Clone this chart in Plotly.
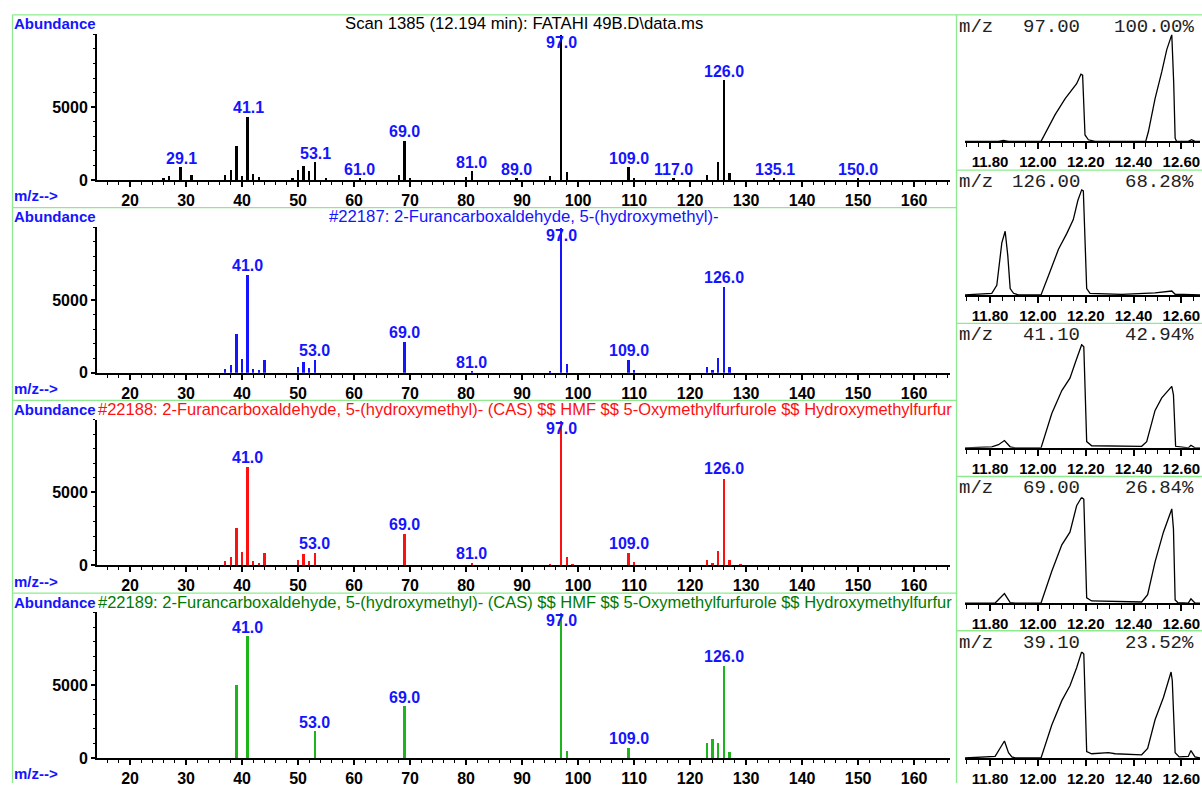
import plotly.graph_objects as go

W, H = 1202, 792

# ---------------- data: mass spectra (m/z, abundance) ----------------
scan_mz = [26, 27, 29, 31, 37, 38, 39, 40, 41, 42, 43, 49, 50, 51, 52, 53, 55, 61, 68, 69, 70,
           80, 81, 89, 95, 97, 98, 109, 110, 117, 123, 125, 126, 127, 135, 150]
scan_ab = [100, 230, 840, 340, 340, 680, 2320, 230, 4320, 410, 160, 100, 640, 950, 570, 1180, 100, 60, 340, 2660, 100,
           200, 570, 50, 230, 9950, 520, 840, 100, 60, 300, 1180, 6820, 450, 50, 40]
scan_labels = ["29.1", "41.1", "53.1", "61.0", "69.0", "81.0", "89.0", "97.0", "109.0", "117.0", "126.0", "135.1", "150.0"]

lib1_mz = [37, 38, 39, 40, 41, 42, 43, 44, 50, 51, 52, 53, 69, 81, 95, 97, 98, 109, 110, 123, 124, 125, 126, 127]
lib1_ab = [270, 520, 2660, 910, 6700, 270, 160, 840, 410, 750, 340, 840, 2110, 60, 110, 9950, 610, 840, 160, 390, 160, 980, 5910, 390]
lib1_labels = ["41.0", "53.0", "69.0", "81.0", "97.0", "109.0", "126.0"]

lib2_mz = [37, 38, 39, 40, 41, 42, 43, 44, 50, 51, 52, 53, 69, 81, 95, 97, 98, 99, 109, 110, 123, 124, 125, 126, 127, 129]
lib2_ab = [300, 570, 2610, 950, 6750, 300, 180, 860, 410, 800, 340, 840, 2160, 180, 110, 9950, 610, 110, 860, 230, 410, 180, 980, 5980, 410, 60]
lib2_labels = ["41.0", "53.0", "69.0", "81.0", "97.0", "109.0", "126.0"]

lib3_mz = [39, 41, 53, 69, 97, 98, 109, 123, 124, 125, 126, 127]
lib3_ab = [4950, 8340, 1820, 3520, 9950, 450, 680, 980, 1250, 980, 6300, 390]
lib3_labels = ["41.0", "53.0", "69.0", "97.0", "109.0", "126.0"]

titles = [
    "Scan 1385 (12.194 min): FATAHI 49B.D\\data.ms",
    "#22187: 2-Furancarboxaldehyde, 5-(hydroxymethyl)-",
    "#22188: 2-Furancarboxaldehyde, 5-(hydroxymethyl)- (CAS) $$ HMF $$ 5-Oxymethylfurfurole $$ Hydroxymethylfurfur",
    "#22189: 2-Furancarboxaldehyde, 5-(hydroxymethyl)- (CAS) $$ HMF $$ 5-Oxymethylfurfurole $$ Hydroxymethylfurfur",
]

# ---------------- data: extracted ion chromatograms (time min, % of max) ----------------
eic97_t = [11.695, 11.835, 11.856, 11.877, 12.013, 12.072, 12.114, 12.141, 12.162, 12.180, 12.187, 12.197, 12.211, 12.239,
           12.451, 12.462, 12.490, 12.518, 12.539, 12.560, 12.568, 12.574, 12.580, 12.629, 12.643, 12.657, 12.678]
eic97_i = [0, 0, 1, 0, 0, 25, 40, 48, 54, 63, 62, 6, 1.5, 0,
           0, 9, 40, 65, 86, 100, 55, 3, 0, 0, 1.5, 0, 0]

eic126_t = [11.695, 11.807, 11.828, 11.849, 11.863, 11.874, 11.884, 11.898, 11.918, 12.013, 12.044, 12.086, 12.121, 12.148,
            12.167, 12.183, 12.190, 12.204, 12.218, 12.351, 12.490, 12.560, 12.574, 12.678]
eic126_i = [0, 1.5, 9, 49, 60, 37, 6, 1.5, 0, 0, 18, 43, 58, 71,
            89, 99, 98, 6, 1.5, 0.5, 2, 3.7, 0.6, 0]

eic41_t = [11.695, 11.807, 11.835, 11.860, 11.884, 11.905, 12.013, 12.058, 12.100, 12.134, 12.158, 12.183, 12.192, 12.204,
           12.225, 12.434, 12.455, 12.490, 12.518, 12.546, 12.560, 12.567, 12.576, 12.629, 12.640, 12.657, 12.678]
eic41_i = [0, 1, 3, 7, 1, 0, 0, 33, 55, 67, 83, 99, 97, 6,
           2, 1.5, 6, 36, 48, 55, 59, 51, 1.5, 0, 2.5, 0, 0]

eic69_t = [11.695, 11.821, 11.860, 11.884, 11.905, 12.013, 12.058, 12.100, 12.134, 12.162, 12.183, 12.192, 12.204, 12.225,
           12.434, 12.459, 12.490, 12.525, 12.560, 12.567, 12.574, 12.585, 12.629, 12.640, 12.657, 12.678]
eic69_i = [0, 0, 9, 0.5, 0, 0, 30, 55, 67, 92, 100, 98, 5, 2,
           1, 8, 39, 67, 89, 70, 3, 0.5, 0, 4, 0, 0]

eic39_t = [11.695, 11.821, 11.860, 11.877, 11.891, 11.905, 12.013, 12.058, 12.100, 12.134, 12.162, 12.183, 12.192, 12.204,
           12.225, 12.295, 12.323, 12.434, 12.459, 12.490, 12.525, 12.557, 12.562, 12.574, 12.591, 12.629, 12.640, 12.657, 12.678]
eic39_i = [0, 1.5, 16, 5, 1, 0, 0, 31, 54, 68, 85, 100, 98, 6,
           4, 5, 4, 3, 9, 36, 57, 81, 73, 5, 1, 1.5, 7, 1, 0]

eic_mz = ["97.00", "126.00", "41.10", "69.00", "39.10"]
eic_pct = ["100.00%", "68.28%", "42.94%", "26.84%", "23.52%"]
eic_t = [eic97_t, eic126_t, eic41_t, eic69_t, eic39_t]
eic_i = [eic97_i, eic126_i, eic41_i, eic69_i, eic39_i]

# ---------------- styling / layout ----------------
FONT = "Arial, Liberation Sans, sans-serif"
MONO = "Liberation Mono, Courier New, monospace"
BLUE = "#1414FF"
GREEN_LINE = "#8DEB8D"
bar_colors = ["#000000", "#1414FF", "#FF1010", "#1CB51C"]
title_colors = ["#000000", "#1414FF", "#FF1010", "#007A00"]


def px(x):
    return x / W


def py(y):
    return 1 - y / H


fig = go.Figure()
annotations = []
shapes = []

spectra = [(scan_mz, scan_ab, scan_labels), (lib1_mz, lib1_ab, lib1_labels),
           (lib2_mz, lib2_ab, lib2_labels), (lib3_mz, lib3_ab, lib3_labels)]
left_zero = [182.0, 377.0, 571.7, 766.7]     # pixel row of zero abundance
frame_top = [15, 210, 405, 600]
YMAX = 10000
PX_PER_UNIT = 14.72 / 1000

for i, (mz, ab, labels) in enumerate(spectra):
    k = i + 1
    sfx = "" if k == 1 else str(k)
    xa, ya = "x" + sfx, "y" + sfx
    fig.add_trace(go.Bar(x=mz, y=ab, width=0.42, marker=dict(color=bar_colors[i], line=dict(width=0)),
                         xaxis=xa, yaxis=ya, hoverinfo="skip", showlegend=False))
    y0 = left_zero[i]
    y1 = y0 - YMAX * PX_PER_UNIT
    fig.layout["xaxis" + sfx] = dict(
        domain=[px(97), px(950)], anchor=ya, range=[14.1, 166.4],
        showline=True, linecolor="black", linewidth=2, mirror=False,
        ticks="outside", ticklen=5, tickwidth=1.6, tickcolor="black",
        tickmode="linear", tick0=0, dtick=10,
        minor=dict(ticks="outside", ticklen=3, tickwidth=1.4, tickcolor="black", dtick=2, tick0=0),
        showgrid=False, zeroline=False, fixedrange=True,
        tickfont=dict(family=FONT, size=16, color="black", weight="bold"))
    fig.layout["yaxis" + sfx] = dict(
        domain=[py(y0), py(y1)], anchor=xa, range=[0, YMAX],
        showline=True, linecolor="black", linewidth=2,
        ticks="outside", ticklen=4, tickwidth=1.6, tickcolor="black",
        tickmode="array", tickvals=[0, 5000], ticktext=["0", "5000"],
        minor=dict(ticks="outside", ticklen=2, tickwidth=1.2, tickcolor="black",
                   tickmode="array", tickvals=list(range(0, YMAX + 1, 1000))),
        showgrid=False, zeroline=False, fixedrange=True,
        tickfont=dict(family=FONT, size=16, color="black", weight="bold"))
    # peak labels
    for lab in labels:
        m = float(lab)
        v = ab[mz.index(round(m))]
        if v > 8500:
            annotations.append(dict(x=m, y=YMAX, xref=xa, yref=ya, text="<b>%s</b>" % lab, showarrow=False,
                                    xanchor="center", yanchor="top", yshift=2,
                                    font=dict(family=FONT, size=16, color=BLUE)))
        else:
            annotations.append(dict(x=m, y=v, xref=xa, yref=ya, text="<b>%s</b>" % lab, showarrow=False,
                                    xanchor="center", yanchor="bottom", yshift=-1,
                                    font=dict(family=FONT, size=16, color=BLUE)))
    # "Abundance" and "m/z-->"
    ft = frame_top[i]
    annotations.append(dict(x=px(12), y=py(ft + 9), xref="paper", yref="paper", text="<b>Abundance</b>",
                            showarrow=False, xanchor="left", yanchor="middle",
                            font=dict(family=FONT, size=15, color=BLUE)))
    annotations.append(dict(x=px(12), y=py(y0 + 16), xref="paper", yref="paper", text="<b>m/z--></b>",
                            showarrow=False, xanchor="left", yanchor="middle",
                            font=dict(family=FONT, size=15, color=BLUE)))
    if i < 2:
        annotations.append(dict(x=px(524), y=py(ft + 9), xref="paper", yref="paper", text=titles[i],
                                showarrow=False, xanchor="center", yanchor="middle",
                                font=dict(family=FONT, size=16.7, color=title_colors[i])))
    else:
        annotations.append(dict(x=px(96), y=py(ft + 9), xref="paper", yref="paper", text=titles[i],
                                showarrow=False, xanchor="left", yanchor="middle",
                                font=dict(family=FONT, size=16.5, color=title_colors[i])))

# chromatograms
right_base = [143.0, 298.3, 453.0, 610.0, 766.7]
right_top = [35.0, 191.0, 347.7, 503.0, 659.3]
right_frame = [15, 172, 327, 482, 638]
for j in range(5):
    k = 5 + j
    sfx = str(k)
    xa, ya = "x" + sfx, "y" + sfx
    fig.add_trace(go.Scatter(x=eic_t[j], y=eic_i[j], mode="lines", line=dict(color="black", width=1.3),
                             xaxis=xa, yaxis=ya, hoverinfo="skip", showlegend=False))
    fig.layout["xaxis" + sfx] = dict(
        domain=[px(965), px(1200)], anchor=ya, range=[11.695, 12.678],
        showline=True, linecolor="black", linewidth=1.6,
        ticks="outside", ticklen=6, tickwidth=1.6, tickcolor="black",
        tickmode="linear", tick0=11.8, dtick=0.2, tickformat=".2f",
        minor=dict(ticks="outside", ticklen=4, tickwidth=1.2, tickcolor="black", dtick=0.05, tick0=11.8),
        showgrid=False, zeroline=False, fixedrange=True,
        tickfont=dict(family=FONT, size=15, color="black", weight="bold"))
    fig.layout["yaxis" + sfx] = dict(
        domain=[py(right_base[j]), py(right_top[j])], anchor=xa, range=[0, 100],
        visible=False, fixedrange=True)
    ty = py(right_frame[j] + 12)
    annotations.append(dict(x=px(957), y=ty, xref="paper", yref="paper", text="m/z", showarrow=False,
                            xanchor="left", yanchor="middle", font=dict(family=MONO, size=19, color="#222")))
    annotations.append(dict(x=px(1082), y=ty, xref="paper", yref="paper", text=eic_mz[j], showarrow=False,
                            xanchor="right", yanchor="middle", font=dict(family=MONO, size=19, color="#222")))
    annotations.append(dict(x=px(1196), y=ty, xref="paper", yref="paper", text=eic_pct[j], showarrow=False,
                            xanchor="right", yanchor="middle", font=dict(family=MONO, size=19, color="#222")))

# green frames
line = dict(color=GREEN_LINE, width=1.3)
shapes.append(dict(type="line", xref="paper", yref="paper", x0=px(12.5), x1=px(12.5), y0=py(15), y1=py(792), line=line))
shapes.append(dict(type="line", xref="paper", yref="paper", x0=px(956.5), x1=px(956.5), y0=py(15), y1=py(792), line=line))
for ft in frame_top:
    shapes.append(dict(type="line", xref="paper", yref="paper", x0=px(12.5), x1=px(956.5), y0=py(ft), y1=py(ft), line=line))
for rf in right_frame:
    shapes.append(dict(type="line", xref="paper", yref="paper", x0=px(956.5), x1=px(1202), y0=py(rf), y1=py(rf), line=line))

fig.update_layout(
    width=W, height=H, margin=dict(l=0, r=0, t=0, b=0),
    paper_bgcolor="white", plot_bgcolor="white",
    annotations=annotations, shapes=shapes, showlegend=False, bargap=0,
)

fig.write_html("out.html", config={"displayModeBar": False},
               post_script="document.body.style.margin='0';document.body.style.overflow='hidden';")
